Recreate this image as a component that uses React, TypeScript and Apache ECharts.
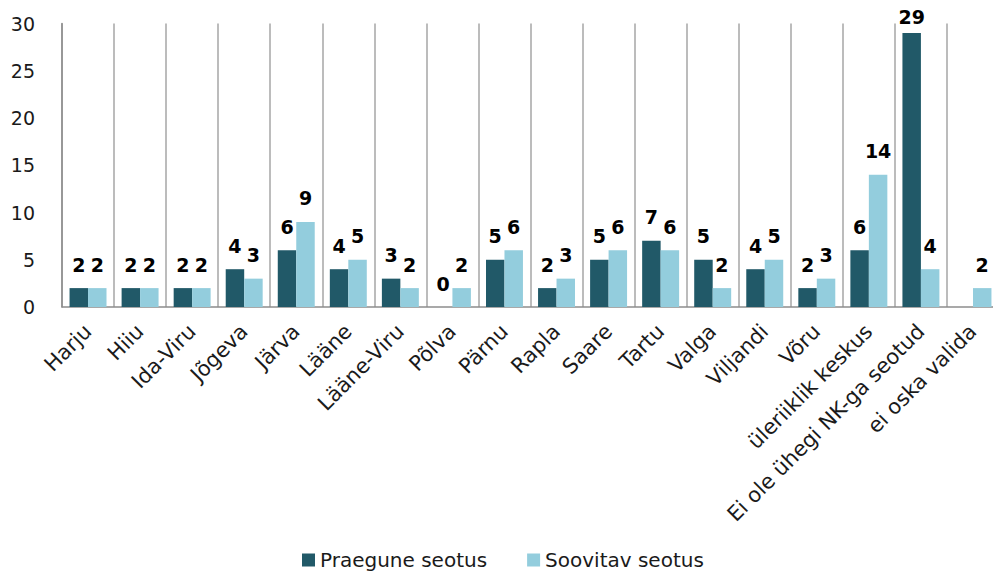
import React, { useEffect, useRef } from "react";
import * as echarts from "echarts";

const categories = [
  "Harju",
  "Hiiu",
  "Ida-Viru",
  "Jõgeva",
  "Järva",
  "Lääne",
  "Lääne-Viru",
  "Põlva",
  "Pärnu",
  "Rapla",
  "Saare",
  "Tartu",
  "Valga",
  "Viljandi",
  "Võru",
  "üleriiklik keskus",
  "Ei ole ühegi NK-ga seotud",
  "ei oska valida",
];

const praegune: (number | null)[] = [2, 2, 2, 4, 6, 4, 3, 0, 5, 2, 5, 7, 5, 4, 2, 6, 29, null];
const soovitav: number[] = [2, 2, 2, 3, 9, 5, 2, 2, 6, 3, 6, 6, 2, 5, 3, 14, 4, 2];

const yTicks = { min: 0, max: 30, interval: 5 };

const DARK = "#215968";
const LIGHT = "#93CDDD";
const FONT = "DejaVu Sans";

export default function App() {
  const ref = useRef<HTMLDivElement>(null);

  useEffect(() => {
    if (!ref.current) return;
    const chart = echarts.init(ref.current, null, { renderer: "svg" });

    const barLabel = {
      show: true,
      position: "top",
      distance: 14,
      color: "#000",
      fontFamily: FONT,
      fontSize: 19,
      fontWeight: "bold",
    };

    chart.setOption({
      animation: false,
      backgroundColor: "#fff",
      grid: {
        left: 62,
        right: -6,
        top: 23.5,
        bottom: 264,
        containLabel: false,
        outerBoundsMode: "none",
      },
      legend: {
        left: 297,
        top: 545,
        itemWidth: 13,
        itemHeight: 13,
        itemGap: 40,
        icon: "rect",
        textStyle: { fontFamily: FONT, fontSize: 20, color: "#1a1a1a" },
        data: ["Praegune seotus", "Soovitav seotus"],
      },
      xAxis: {
        type: "category",
        data: categories,
        boundaryGap: true,
        axisLine: { show: true, lineStyle: { color: "#8c8c8c", width: 1.5 } },
        axisTick: { show: false },
        splitLine: { show: true, lineStyle: { color: "#a6a6a6", width: 1.5 } },
        axisLabel: {
          interval: 0,
          rotate: 45,
          margin: 21,
          fontFamily: FONT,
          fontSize: 21,
          color: "#1a1a1a",
        },
      },
      yAxis: {
        type: "value",
        min: yTicks.min,
        max: yTicks.max,
        interval: yTicks.interval,
        axisLine: { show: true, lineStyle: { color: "#8c8c8c", width: 1.5 } },
        axisTick: { show: false },
        splitLine: { show: false },
        axisLabel: {
          margin: 27,
          fontFamily: FONT,
          fontSize: 19,
          color: "#1a1a1a",
        },
      },
      series: [
        {
          name: "Praegune seotus",
          type: "bar",
          barGap: "0%",
          barCategoryGap: "29%",
          itemStyle: { color: DARK },
          label: barLabel,
          data: praegune.map((v) =>
            v === null ? "-" : v === 29 ? { value: v, label: { distance: 6 } } : v
          ),
        },
        {
          name: "Soovitav seotus",
          type: "bar",
          barGap: "0%",
          barCategoryGap: "29%",
          itemStyle: { color: LIGHT },
          label: barLabel,
          data: soovitav,
        },
      ],
    });

    return () => chart.dispose();
  }, []);

  return (
    <div
      ref={ref}
      style={{ position: "fixed", left: 0, top: 0, width: 993, height: 571 }}
    />
  );
}
